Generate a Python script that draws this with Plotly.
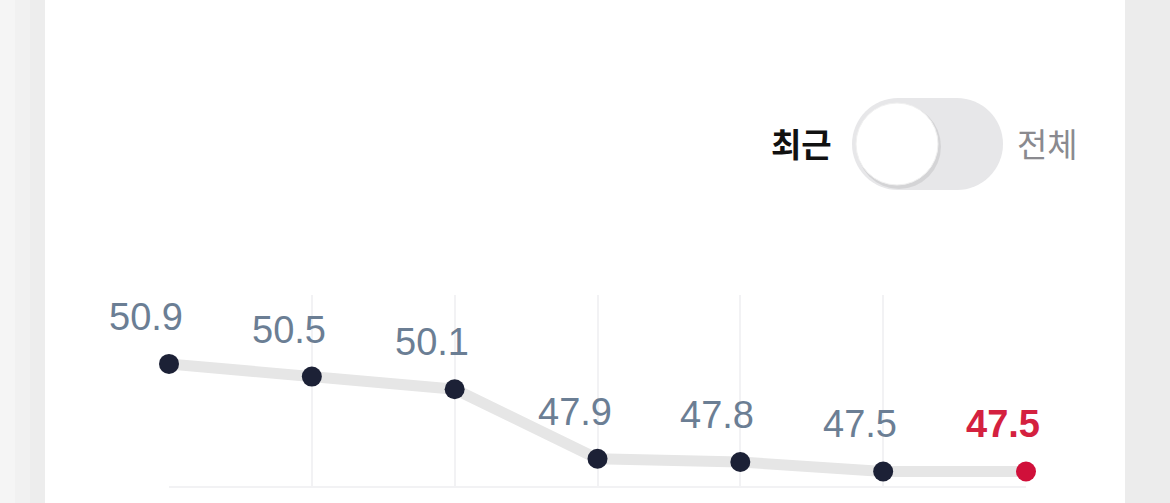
import plotly.graph_objects as go

W, H = 1170, 503

# data (recent 7 readings)
points = [0, 1, 2, 3, 4, 5, 6]
values = [50.9, 50.5, 50.1, 47.9, 47.8, 47.5, 47.5]
labels = ["50.9", "50.5", "50.1", "47.9", "47.8", "47.5", "47.5"]
toggle_left = "최근"
toggle_right = "전체"

NAVY = "#1c2136"
RED = "#d0103a"
LABEL_GREY = "#6b7e94"


def px_x(p):
    return p / W


def px_y(p):
    return 1 - p / H


fig = go.Figure()

# thick grey line
fig.add_trace(go.Scatter(
    x=points, y=values, mode="lines",
    line=dict(color="#e6e6e6", width=11),
    hoverinfo="skip", showlegend=False, cliponaxis=False))

# markers, last one red
marker_colors = [NAVY] * (len(values) - 1) + [RED]
fig.add_trace(go.Scatter(
    x=points, y=values, mode="markers",
    marker=dict(color=marker_colors, size=20, line=dict(width=0)),
    showlegend=False, cliponaxis=False))

# value labels
for i, (x, v, t) in enumerate(zip(points, values, labels)):
    last = i == len(values) - 1
    fig.add_annotation(
        x=x, y=v, text=f"<b>{t}</b>" if last else t,
        showarrow=False, xshift=-23, yshift=47,
        font=dict(family="Liberation Sans, Arial", size=38,
                  color="#d4213f" if last else LABEL_GREY))

shapes = []
# white card
shapes.append(dict(type="rect", xref="paper", yref="paper", layer="below",
                   x0=px_x(45), x1=px_x(1125), y0=0, y1=1,
                   fillcolor="white", line=dict(width=0)))
# soft shading left of the card
for x0, x1, col in [(0, 15, "#f5f5f5"), (15, 30, "#f1f1f1"), (30, 45, "#ededed")]:
    shapes.append(dict(type="rect", xref="paper", yref="paper", layer="below",
                       x0=px_x(x0), x1=px_x(x1), y0=0, y1=1,
                       fillcolor=col, line=dict(width=0)))

# toggle pill
cy, r = 144, 46
for cx in (898, 957):
    shapes.append(dict(type="circle", xref="paper", yref="paper",
                       x0=px_x(cx - r), x1=px_x(cx + r),
                       y0=px_y(cy + r), y1=px_y(cy - r),
                       fillcolor="#e7e7e9", line=dict(width=0)))
shapes.append(dict(type="rect", xref="paper", yref="paper",
                   x0=px_x(898), x1=px_x(957),
                   y0=px_y(cy + r), y1=px_y(cy - r),
                   fillcolor="#e7e7e9", line=dict(width=0)))
# knob shadow + knob
kx, ky, kr = 897, 144, 41
shapes.append(dict(type="circle", xref="paper", yref="paper",
                   x0=px_x(kx - kr + 1), x1=px_x(kx + kr + 3),
                   y0=px_y(ky + kr + 4), y1=px_y(ky - kr + 1),
                   fillcolor="rgba(0,0,0,0.08)", line=dict(width=0)))
shapes.append(dict(type="circle", xref="paper", yref="paper",
                   x0=px_x(kx - kr), x1=px_x(kx + kr),
                   y0=px_y(ky + kr), y1=px_y(ky - kr),
                   fillcolor="white", line=dict(color="#f0f0f0", width=1)))

fig.add_annotation(x=px_x(801), y=px_y(145), xref="paper", yref="paper",
                   xanchor="center", yanchor="middle",
                   text=f"<b>{toggle_left}</b>", showarrow=False,
                   font=dict(family="Liberation Sans, Noto Sans CJK KR", size=33, color="#111111"))
fig.add_annotation(x=px_x(1047), y=px_y(145), xref="paper", yref="paper",
                   xanchor="center", yanchor="middle",
                   text=toggle_right, showarrow=False,
                   font=dict(family="Liberation Sans, Noto Sans CJK KR", size=33, color="#8a8a8f"))

fig.update_layout(
    width=W, height=H,
    margin=dict(l=0, r=0, t=0, b=0),
    paper_bgcolor="#ececec",
    plot_bgcolor="rgba(0,0,0,0)",
    shapes=shapes,
    xaxis=dict(domain=[px_x(169), px_x(1026)], range=[0, 6],
               tickvals=points, showticklabels=False, ticks="",
               showgrid=True, gridcolor="#f2f2f4", gridwidth=2,
               zeroline=False, showline=True, linecolor="#f2f2f4",
               linewidth=2, fixedrange=True),
    yaxis=dict(domain=[px_y(486), px_y(295)], range=[47.04, 53.08],
               showgrid=False, showticklabels=False, ticks="",
               zeroline=False, showline=False, fixedrange=True),
)

fig.write_html("out.html", config={"displayModeBar": False},
               post_script="document.body.style.margin='0';")
